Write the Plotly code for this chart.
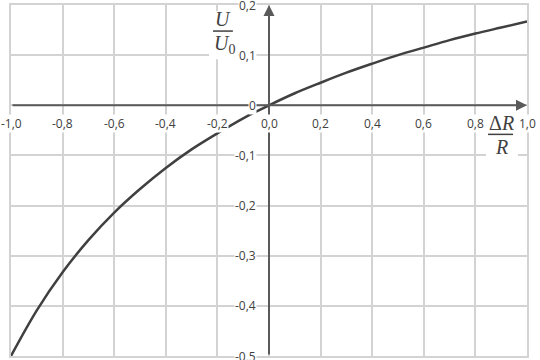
import plotly.graph_objects as go

# Data
x_vals = [-1.0, -0.9, -0.8, -0.7, -0.6, -0.5, -0.4, -0.3, -0.2, -0.1, 0.0,
          0.1, 0.2, 0.3, 0.4, 0.5, 0.6, 0.7, 0.8, 0.9, 1.0]
y_vals = [-0.500, -0.409, -0.333, -0.269, -0.214, -0.167, -0.125, -0.088, -0.056, -0.026, 0.0,
          0.024, 0.045, 0.065, 0.083, 0.100, 0.115, 0.130, 0.143, 0.155, 0.167]

x_tick_vals = [-1.0, -0.8, -0.6, -0.4, -0.2, 0.0, 0.2, 0.4, 0.6, 0.8, 1.0]
x_tick_labels = ["-1,0", "-0,8", "-0,6", "-0,4", "-0,2", "0,0", "0,2", "0,4", "0,6", "0,8", "1,0"]
y_tick_vals = [0.2, 0.1, 0.0, -0.1, -0.2, -0.3, -0.4, -0.5]
y_tick_labels = ["0,2", "0,1", "0", "-0,1", "-0,2", "-0,3", "-0,4", "-0,5"]

GRID = "#d3d3d3"
AXIS = "#5a5a5a"
TXT = "#404040"
TFONT = dict(family="Open Sans", size=12, color=TXT)
SERIF = "Liberation Serif"

fig = go.Figure()
fig.add_trace(go.Scatter(x=x_vals, y=y_vals, mode="lines",
                         line=dict(color="#404040", width=2.5, shape="spline"),
                         hoverinfo="skip", showlegend=False))

annotations = []
# axes with arrows
annotations.append(dict(x=1.0, y=0, ax=-1.0, ay=0, xref="x", yref="y", axref="x", ayref="y",
                        text="", showarrow=True, arrowhead=2, arrowsize=1.1, arrowwidth=2,
                        arrowcolor=AXIS))
annotations.append(dict(x=0, y=0.2, ax=0, ay=-0.5, xref="x", yref="y", axref="x", ayref="y",
                        text="", showarrow=True, arrowhead=2, arrowsize=1.1, arrowwidth=2,
                        arrowcolor=AXIS))
# tick labels
for v, t in zip(x_tick_vals, x_tick_labels):
    annotations.append(dict(x=v, y=0, xref="x", yref="y", text=t, showarrow=False,
                            xanchor="center", yanchor="top", yshift=-9,
                            font=TFONT, bgcolor="white", borderpad=0))
for v, t in zip(y_tick_vals, y_tick_labels):
    annotations.append(dict(x=0, y=v, xref="x", yref="y", text=t, showarrow=False,
                            xanchor="right", yanchor="middle", xshift=-12,
                            font=TFONT, bgcolor="white", borderpad=0))
# axis titles
annotations.append(dict(x=-0.178, y=0.172, xref="x", yref="y", text="<i>U</i>", showarrow=False,
                        xanchor="center", yanchor="middle",
                        font=dict(family=SERIF, size=20, color=TXT)))
annotations.append(dict(x=-0.174, y=0.122, xref="x", yref="y", text="<i>U</i><sub>0</sub>",
                        showarrow=False, xanchor="center", yanchor="middle",
                        font=dict(family=SERIF, size=20, color=TXT)))
annotations.append(dict(x=0.901, y=-0.036, xref="x", yref="y", text="Δ<i>R</i>", showarrow=False,
                        xanchor="center", yanchor="middle",
                        font=dict(family=SERIF, size=20, color=TXT)))
annotations.append(dict(x=0.903, y=-0.084, xref="x", yref="y", text="<i>R</i>", showarrow=False,
                        xanchor="center", yanchor="middle",
                        font=dict(family=SERIF, size=20, color=TXT)))

shapes = [
    dict(type="rect", xref="x", yref="y", x0=-0.2326, x1=-0.120, y0=0.092, y1=0.188,
         fillcolor="white", line=dict(width=0), layer="above"),
    dict(type="rect", xref="x", yref="y", x0=0.841, x1=0.965, y0=-0.104, y1=-0.016,
         fillcolor="white", line=dict(width=0), layer="above"),
    dict(type="line", xref="x", yref="y", x0=-0.217, x1=-0.140, y0=0.148, y1=0.148,
         line=dict(color=TXT, width=1.5), layer="above"),
    dict(type="line", xref="x", yref="y", x0=0.849, x1=0.946, y0=-0.058, y1=-0.058,
         line=dict(color=TXT, width=1.5), layer="above"),
]

fig.update_layout(
    width=540, height=360,
    margin=dict(l=11, r=13, t=5, b=4),
    paper_bgcolor="white", plot_bgcolor="white",
    showlegend=False,
    annotations=annotations,
    shapes=shapes,
    xaxis=dict(range=[-1.0, 1.0], tickvals=x_tick_vals, showticklabels=False,
               showgrid=True, gridcolor=GRID, gridwidth=1.5, zeroline=False,
               showline=True, mirror=True, linecolor=GRID, linewidth=1.5, fixedrange=True),
    yaxis=dict(range=[-0.5, 0.2], tickvals=y_tick_vals, showticklabels=False,
               showgrid=True, gridcolor=GRID, gridwidth=1.5, zeroline=False,
               showline=True, mirror=True, linecolor=GRID, linewidth=1.5, fixedrange=True),
)

fig.write_html("out.html")
